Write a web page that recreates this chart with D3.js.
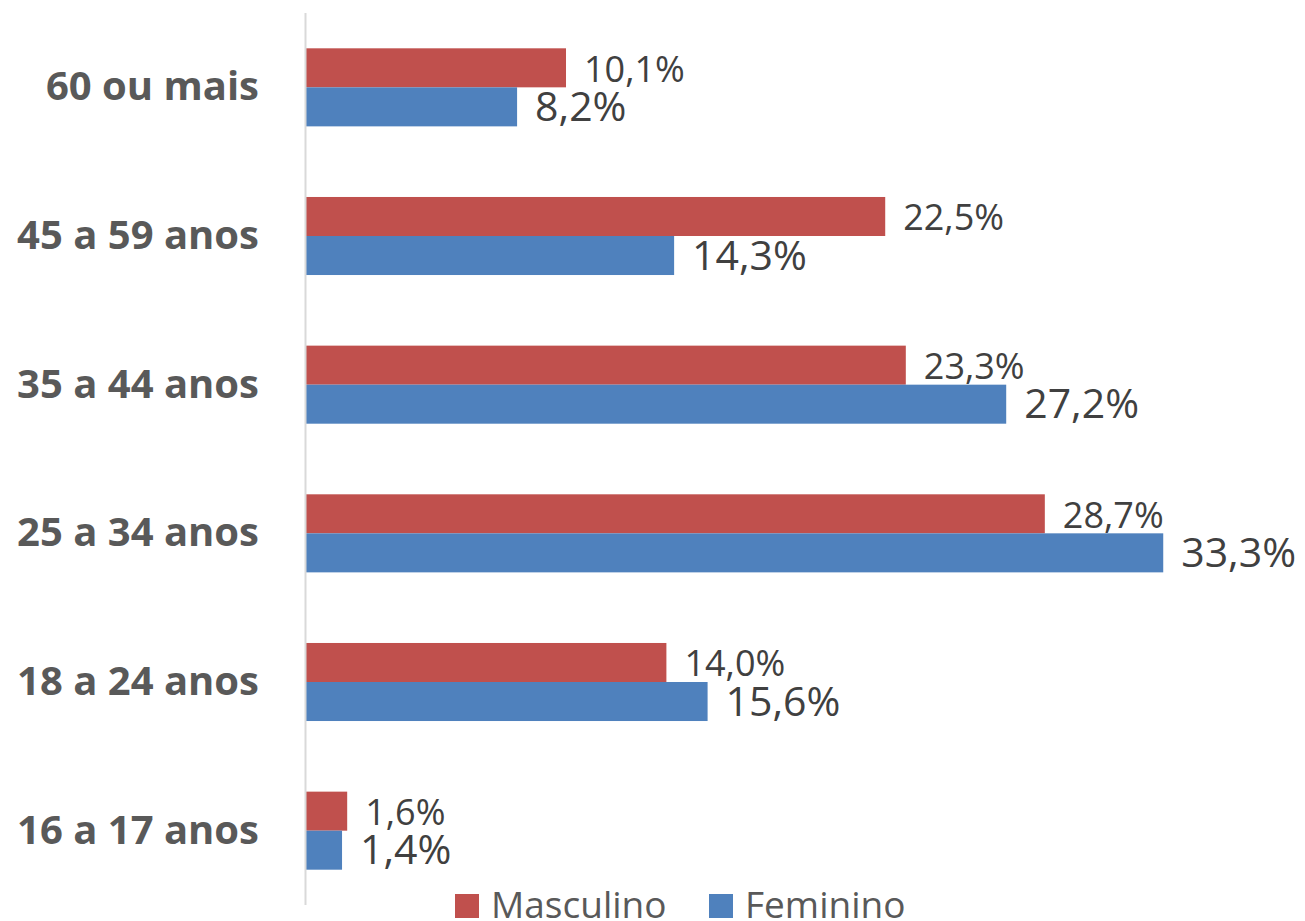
<!DOCTYPE html>
<html>
<head>
<meta charset="utf-8">
<script src="https://cdn.jsdelivr.net/npm/d3@7"></script>
<style>
    body { margin: 0; background: #fff; }
    svg { display: block; }
</style>
</head>
<body>
<svg id="chart" width="1305" height="921"></svg>
<script>
// Data
var categories = ["60 ou mais", "45 a 59 anos", "35 a 44 anos", "25 a 34 anos", "18 a 24 anos", "16 a 17 anos"];
var seriesNames = ["Masculino", "Feminino"];
var masculino = [10.1, 22.5, 23.3, 28.7, 14.0, 1.6];
var feminino = [8.2, 14.3, 27.2, 33.3, 15.6, 1.4];

var style = {
    colors: { Masculino: "#C0504D", Feminino: "#4F81BD" },
    labelSize: { Masculino: 36, Feminino: 41 },
    font: "'Open Sans', 'Noto Sans', sans-serif",
    textColor: "#404040",
    catColor: "#595959"
};

var svg = d3.select("#chart");

var y = d3.scaleBand()
    .domain(categories)
    .range([13, 905])
    .paddingInner(0.475)
    .paddingOuter(0.2375);

var ySub = d3.scaleBand()
    .domain(seriesNames)
    .range([0, y.bandwidth()]);

var x = d3.scaleLinear()
    .domain([0, 35])
    .range([306, 1207]);

var fmt = function(v) {
    return d3.format(".1f")(v).replace(".", ",") + "%";
};

var rows = categories.map(function(c, i) {
    return { cat: c, values: [
        { name: "Masculino", value: masculino[i] },
        { name: "Feminino", value: feminino[i] }
    ]};
});

var groups = svg.selectAll("g.group")
    .data(rows)
    .enter()
    .append("g")
    .attr("class", "group")
    .attr("transform", function(d) { return "translate(0," + y(d.cat) + ")"; });

groups.selectAll("rect")
    .data(function(d) { return d.values; })
    .enter()
    .append("rect")
    .attr("x", x(0))
    .attr("y", function(d) { return ySub(d.name); })
    .attr("width", function(d) { return x(d.value) - x(0); })
    .attr("height", ySub.bandwidth())
    .attr("fill", function(d) { return style.colors[d.name]; });

groups.selectAll("text.val")
    .data(function(d) { return d.values; })
    .enter()
    .append("text")
    .attr("class", "val")
    .attr("x", function(d) { return x(d.value) + 18; })
    .attr("y", function(d) { return ySub(d.name) + ySub.bandwidth() / 2 + 14; })
    .attr("font-family", style.font)
    .attr("font-size", function(d) { return style.labelSize[d.name]; })
    .attr("fill", style.textColor)
    .text(function(d) { return fmt(d.value); });

// category labels
svg.selectAll("text.cat")
    .data(categories)
    .enter()
    .append("text")
    .attr("class", "cat")
    .attr("x", 259)
    .attr("y", function(d) { return y(d) + y.bandwidth() / 2 + 13; })
    .attr("text-anchor", "end")
    .attr("font-family", style.font)
    .attr("font-weight", "bold")
    .attr("font-size", 40)
    .attr("fill", style.catColor)
    .text(function(d) { return d; });

// vertical axis line
svg.append("line")
    .attr("x1", 305.5).attr("x2", 305.5)
    .attr("y1", 13).attr("y2", 905)
    .attr("stroke", "#d9d9d9")
    .attr("stroke-width", 2);

// legend
var legendX = [455, 709];
var legend = svg.selectAll("g.legend")
    .data(seriesNames)
    .enter()
    .append("g")
    .attr("class", "legend")
    .attr("transform", function(d, i) { return "translate(" + legendX[i] + ",894)"; });

legend.append("rect")
    .attr("width", 24)
    .attr("height", 24)
    .attr("fill", function(d) { return style.colors[d]; });

legend.append("text")
    .attr("x", 36)
    .attr("y", 24)
    .attr("font-family", style.font)
    .attr("font-size", 37)
    .attr("fill", style.catColor)
    .text(function(d) { return d; });
</script>
</body>
</html>
